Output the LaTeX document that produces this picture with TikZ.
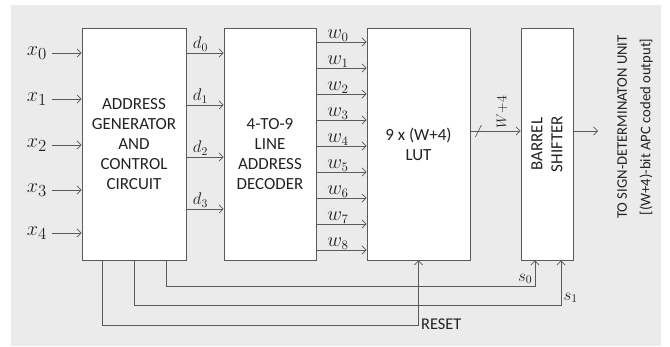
\documentclass[tikz,border=0pt]{standalone}
\usepackage{amsmath}
\usepackage{fontspec}
\setsansfont{Carlito}
\usetikzlibrary{arrows.meta}
\definecolor{bggray}{HTML}{EBEBEB}
\definecolor{wiregray}{HTML}{5A5A5A}
\definecolor{txtgray}{HTML}{222222}

\begin{document}
\begin{tikzpicture}[x=0.03cm, y=-0.03cm,
    every node/.style={text=txtgray},
    blk/.style={draw=wiregray, fill=white, line width=0.8pt, minimum height=6.96cm, inner sep=0pt},
    blktxt/.style={align=center, font=\sffamily\fontsize{14.5}{17}\selectfont},
    wire/.style={draw=wiregray, line width=0.6pt},
    arr/.style={wire, -{Straight Barb[length=3.5pt,width=7pt]}}]
  \useasboundingbox (0,0) rectangle (670,347);
  \fill[bggray] (11,5) rectangle (661,346);

  % blocks
  \node[blk, blktxt, minimum width=3.12cm] (addr) at (134,144) {ADDRESS\\GENERATOR\\AND\\CONTROL\\CIRCUIT};
  \node[blk, minimum width=2.76cm] (dec) at (270,144) {};
  \node[blktxt] (dectxt) at ([yshift=-0.3cm]dec.center) {4-TO-9\\LINE\\ADDRESS\\DECODER};
  \node[blk, blktxt, minimum width=3.09cm] (lut) at (418.5,144) {9 x (W+4)\\LUT};
  \node[blk, minimum width=1.56cm] (bsh) at (547,144) {};
  \node[blktxt, rotate=90] (bshtxt) at (bsh.center) {BARREL\\SHIFTER};

  % inputs
  \foreach \i/\y in {0/53,1/99,2/145,3/190,4/233}{
    \node[font=\fontsize{19}{19}\selectfont, inner xsep=4pt] (x\i) at (37,\y) {$x_{\i}$};
    \draw[arr] (x\i) -- (addr.west |- x\i);
  }

  % address lines
  \foreach \i/\y in {0/53,1/105,2/157,3/209}
    \draw[arr] (addr.east |- 0,\y) -- (dec.west |- 0,\y)
      node[pos=0, anchor=south west, inner sep=1pt, xshift=0.15cm, font=\fontsize{14}{14}\selectfont] {$d_{\i}$};

  % word lines
  \foreach \i [evaluate=\i as \y using 42+26*\i] in {0,...,8}
    \draw[arr] (dec.east |- 0,\y) -- (lut.west |- 0,\y)
      node[pos=0, anchor=south west, inner sep=0.5pt, xshift=0.3cm, font=\fontsize{16}{16}\selectfont] {$w_{\i}$};

  % LUT to barrel shifter
  \draw[arr] (lut.east |- 0,131) -- (bsh.west |- 0,131);
  \draw[wire] (lut.east |- 0,131) ++(5,6) -- ++(6,-12);
  \node[rotate=90, font=\fontsize{13}{13}\selectfont] (wlab) at (502,112) {$W{+}4$};

  % output
  \coordinate (out) at (598,131);
  \draw[arr] (bsh.east |- out) -- (out);
  \node[rotate=90, align=center, font=\sffamily\fontsize{12.5}{20}\selectfont] (dest) at (635,127)
    {TO SIGN-DETERMINATON UNIT\\{[}(W+4)-bit APC coded output]};

  % control lines
  \draw[arr] ([xshift=0.96cm]addr.south) -- ++(0,26) -| ([xshift=-0.36cm]bsh.south)
    node[pos=0.5, anchor=south east, inner sep=2pt, font=\fontsize{14}{14}\selectfont] {$s_0$};
  \draw[arr] (addr.south) -- ++(0,45) -| ([xshift=0.42cm]bsh.south)
    node[pos=0.5, anchor=south west, inner sep=2pt, font=\fontsize{14}{14}\selectfont] {$s_1$};
  \draw[arr] ([xshift=-0.96cm]addr.south) -- ++(0,65) -| (lut.south)
    node[pos=0.5, anchor=west, inner sep=2pt, yshift=0.05cm, font=\sffamily\fontsize{14}{14}\selectfont] {RESET};
\end{tikzpicture}
\end{document}
